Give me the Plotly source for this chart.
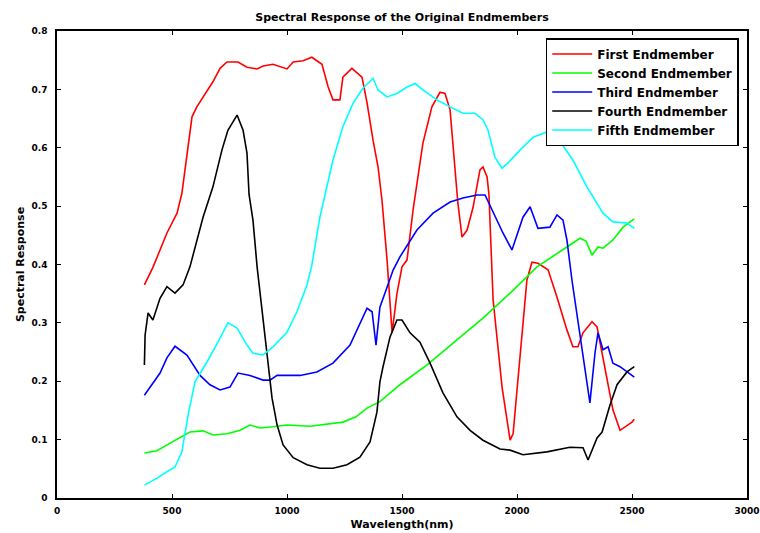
import plotly.graph_objects as go

# Wavelength (nm) and reflectance samples for each endmember
first_wl = [380, 417, 478, 522, 543, 565, 587, 608, 635, 678, 709, 739, 787, 826, 870, 896, 939,
            1000, 1027, 1070, 1108, 1152, 1179, 1200, 1230, 1243, 1282, 1326, 1348, 1374, 1396,
            1413, 1435, 1457, 1478, 1500, 1522, 1548, 1591, 1630, 1665, 1687, 1709, 1722, 1743,
            1761, 1783, 1809, 1839, 1852, 1870, 1878, 1896, 1935, 1970, 1983, 2013, 2043, 2065,
            2091, 2135, 2174, 2217, 2243, 2265, 2287, 2326, 2348, 2370, 2391, 2417, 2448, 2500, 2510]
first_val = [0.365, 0.395, 0.454, 0.488, 0.522, 0.584, 0.653, 0.670, 0.687, 0.713, 0.736, 0.747,
             0.747, 0.738, 0.735, 0.740, 0.743, 0.735, 0.747, 0.749, 0.755, 0.743, 0.704, 0.682,
             0.682, 0.721, 0.736, 0.721, 0.677, 0.613, 0.567, 0.510, 0.408, 0.283, 0.350, 0.396,
             0.408, 0.493, 0.608, 0.670, 0.695, 0.693, 0.665, 0.608, 0.505, 0.447, 0.459, 0.498,
             0.562, 0.567, 0.550, 0.520, 0.340, 0.190, 0.099, 0.110, 0.248, 0.373, 0.404, 0.402,
             0.391, 0.344, 0.288, 0.259, 0.259, 0.283, 0.302, 0.293, 0.248, 0.202, 0.151, 0.116,
             0.130, 0.135]

second_wl = [380, 435, 478, 535, 578, 635, 678, 739, 796, 839, 883, 939, 1000, 1100, 1174, 1243,
             1300, 1348, 1404, 1491, 1609, 1739, 1852, 1970, 2087, 2217, 2274, 2300, 2326, 2352,
             2374, 2417, 2461, 2510]
second_val = [0.077, 0.081, 0.091, 0.104, 0.113, 0.115, 0.108, 0.110, 0.116, 0.125, 0.120, 0.122,
              0.125, 0.123, 0.127, 0.130, 0.139, 0.154, 0.165, 0.194, 0.228, 0.270, 0.308, 0.351,
              0.396, 0.430, 0.445, 0.440, 0.416, 0.430, 0.428, 0.442, 0.464, 0.478]

third_wl = [380, 413, 448, 478, 513, 565, 622, 665, 709, 752, 787, 839, 896, 926, 957, 1057, 1130,
            1200, 1274, 1348, 1370, 1387, 1404, 1435, 1461, 1491, 1565, 1635, 1709, 1765, 1826,
            1861, 1896, 1939, 1978, 2026, 2057, 2091, 2143, 2174, 2200, 2217, 2239, 2274, 2304,
            2317, 2339, 2352, 2374, 2396, 2417, 2448, 2510]
third_val = [0.176, 0.194, 0.214, 0.240, 0.260, 0.245, 0.210, 0.194, 0.185, 0.190, 0.214, 0.210,
             0.202, 0.202, 0.210, 0.210, 0.216, 0.231, 0.262, 0.325, 0.319, 0.262, 0.327, 0.361,
             0.390, 0.413, 0.459, 0.488, 0.507, 0.514, 0.519, 0.519, 0.490, 0.454, 0.425, 0.481,
             0.499, 0.462, 0.464, 0.485, 0.476, 0.442, 0.373, 0.276, 0.190, 0.163, 0.248, 0.283,
             0.254, 0.259, 0.231, 0.225, 0.207]

fourth_wl = [380, 383, 396, 417, 448, 478, 513, 548, 578, 635, 678, 717, 743, 783, 809, 826, 835,
             852, 870, 891, 913, 935, 957, 983, 1027, 1087, 1143, 1200, 1261, 1317, 1361, 1391,
             1404, 1417, 1448, 1478, 1500, 1535, 1578, 1622, 1678, 1739, 1796, 1852, 1926, 1970,
             2026, 2130, 2230, 2287, 2309, 2348, 2370, 2404, 2435, 2478, 2510]
fourth_val = [0.228, 0.279, 0.317, 0.305, 0.342, 0.362, 0.351, 0.365, 0.396, 0.481, 0.533, 0.596,
              0.630, 0.656, 0.630, 0.591, 0.520, 0.476, 0.396, 0.325, 0.240, 0.171, 0.125, 0.091,
              0.069, 0.057, 0.051, 0.051, 0.057, 0.070, 0.096, 0.147, 0.199, 0.224, 0.276, 0.305,
              0.305, 0.283, 0.267, 0.231, 0.180, 0.139, 0.116, 0.099, 0.084, 0.082, 0.074, 0.079,
              0.087, 0.086, 0.065, 0.103, 0.113, 0.159, 0.194, 0.216, 0.225]

fifth_wl = [380, 435, 478, 513, 543, 570, 600, 652, 709, 743, 783, 826, 852, 896, 939, 1000, 1043,
            1087, 1108, 1143, 1200, 1243, 1287, 1330, 1374, 1396, 1435, 1478, 1522, 1557, 1591,
            1652, 1709, 1765, 1817, 1852, 1874, 1904, 1935, 1961, 2013, 2070, 2130, 2174, 2243,
            2304, 2374, 2417, 2478, 2510]
fifth_val = [0.022, 0.034, 0.045, 0.053, 0.079, 0.142, 0.199, 0.233, 0.274, 0.300, 0.291, 0.262,
             0.248, 0.245, 0.259, 0.284, 0.319, 0.365, 0.399, 0.481, 0.579, 0.636, 0.676, 0.702,
             0.719, 0.699, 0.687, 0.693, 0.704, 0.710, 0.699, 0.682, 0.670, 0.659, 0.659, 0.648,
             0.630, 0.584, 0.565, 0.574, 0.596, 0.618, 0.627, 0.618, 0.579, 0.533, 0.488, 0.473,
             0.471, 0.462]

series_names = ["First Endmember", "Second Endmember", "Third Endmember",
                "Fourth Endmember", "Fifth Endmember"]
series_colors = ["#ff0000", "#00ff00", "#0000ff", "#000000", "#00ffff"]
series_data = [(first_wl, first_val), (second_wl, second_val), (third_wl, third_val),
               (fourth_wl, fourth_val), (fifth_wl, fifth_val)]

x_ticks = [0, 500, 1000, 1500, 2000, 2500, 3000]
y_ticks = [0, 0.1, 0.2, 0.3, 0.4, 0.5, 0.6, 0.7, 0.8]
y_tick_labels = ["0", "0.1", "0.2", "0.3", "0.4", "0.5", "0.6", "0.7", "0.8"]

FONT = "DejaVu Sans"

fig = go.Figure()
for name, color, (wl, val) in zip(series_names, series_colors, series_data):
    fig.add_trace(go.Scatter(x=wl, y=val, mode="lines", name=name,
                             line=dict(color=color, width=1.6)))

axis_common = dict(
    showline=True, linecolor="black", linewidth=1.5, mirror="ticks",
    ticks="inside", ticklen=4, tickwidth=1.2, tickcolor="black",
    showgrid=False, zeroline=False, automargin=False,
    tickfont=dict(family=FONT, size=9, color="black", weight="bold"),
)

fig.update_xaxes(range=[0, 3000], tickvals=x_ticks, ticktext=[str(v) for v in x_ticks],
                 ticklabelstandoff=3,
                 title=dict(text="Wavelength(nm)", standoff=6,
                            font=dict(family=FONT, size=11, color="black", weight="bold")),
                 **axis_common)
fig.update_yaxes(range=[0, 0.8], tickvals=y_ticks, ticktext=y_tick_labels,
                 ticklabelstandoff=6,
                 title=dict(text="Spectral Response", standoff=5,
                            font=dict(family=FONT, size=11, color="black", weight="bold")),
                 **axis_common)

fig.update_layout(
    width=760, height=533,
    margin=dict(l=57, r=13, t=31, b=35, autoexpand=False),
    paper_bgcolor="white", plot_bgcolor="white",
    title=dict(text="Spectral Response of the Original Endmembers",
               x=0.5, xref="paper", xanchor="center", y=0.968, yanchor="middle",
               font=dict(family=FONT, size=11, color="black", weight="bold")),
    legend=dict(x=0.988, y=0.985, xanchor="right", yanchor="top",
                bgcolor="white", bordercolor="black", borderwidth=1.5,
                font=dict(family=FONT, size=12, color="black", weight="bold"),
                tracegroupgap=0, itemwidth=40),
    showlegend=True,
)

fig.write_html("out.html")
